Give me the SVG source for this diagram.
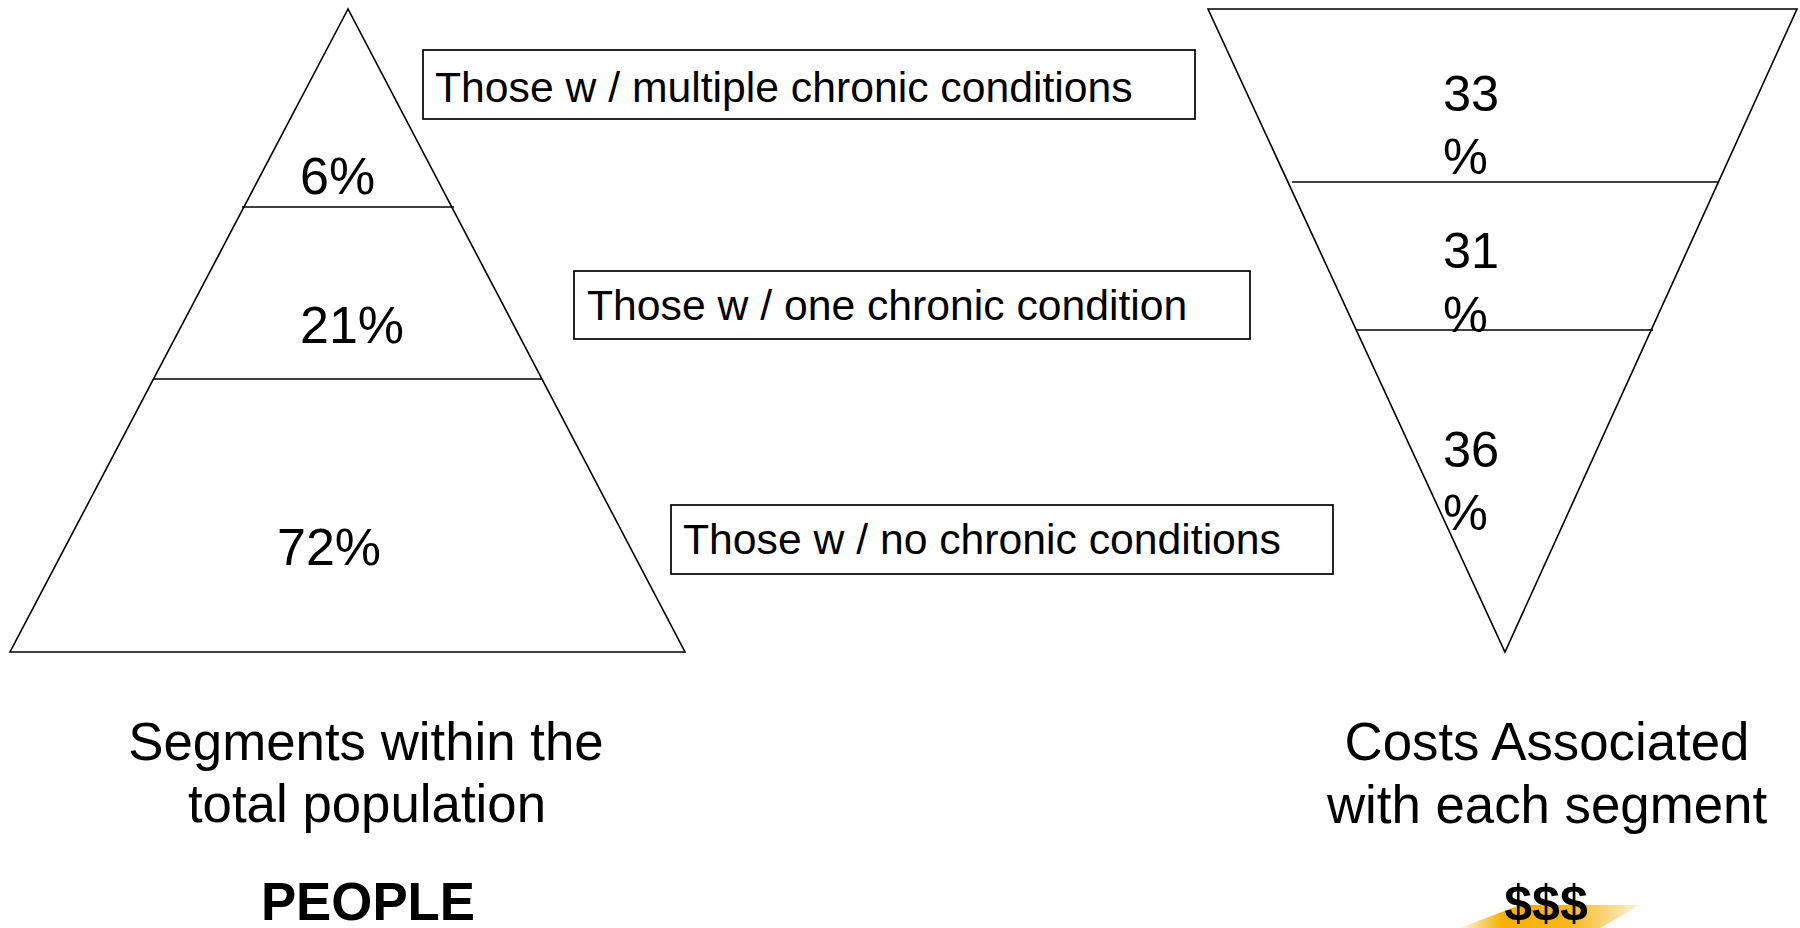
<svg xmlns="http://www.w3.org/2000/svg" width="1800" height="928" viewBox="0 0 1800 928">
<style>
.shape{fill:none;stroke:#000;stroke-width:1.6}
.box{fill:#fff;stroke:#000;stroke-width:1.7}
.t{font-family:"Liberation Sans",Arial,sans-serif;fill:#000}
.lbl{font-size:42.7px}
.pct{font-size:52px}
.pctr{font-size:50.5px}
.cap{font-size:52.8px;text-anchor:middle}
.bold{font-weight:bold}
</style>
<defs>
<linearGradient id="swoosh" gradientUnits="userSpaceOnUse" x1="1455" y1="0" x2="1645" y2="0">
<stop offset="0" stop-color="#F5B000" stop-opacity="0"/>
<stop offset="0.25" stop-color="#F5B000" stop-opacity="1"/>
<stop offset="0.6" stop-color="#F5B000" stop-opacity="0.9"/>
<stop offset="1" stop-color="#F5B000" stop-opacity="0.1"/>
</linearGradient>
</defs>
<rect width="1800" height="928" fill="#fff"/>

<g id="population-pyramid">
<polygon class="shape" points="348,9 10,652 685,652"/>
<line class="shape" x1="242" y1="207" x2="454" y2="207"/>
<line class="shape" x1="153" y1="379" x2="542" y2="379"/>
<text class="t pct" x="300" y="194">6%</text>
<text class="t pct" x="300" y="343">21%</text>
<text class="t pct" x="277" y="565">72%</text>
</g>

<g id="cost-pyramid">
<polygon class="shape" points="1208,9 1797,9 1505,652"/>
<line class="shape" x1="1292" y1="182" x2="1718" y2="182"/>
<line class="shape" x1="1356" y1="330" x2="1653" y2="330"/>
<text class="t pctr" x="1443" y="111">33</text>
<text class="t pctr" x="1443" y="174">%</text>
<text class="t pctr" x="1443" y="268">31</text>
<text class="t pctr" x="1443" y="332">%</text>
<text class="t pctr" x="1443" y="467">36</text>
<text class="t pctr" x="1443" y="530">%</text>
</g>

<g id="label-multiple">
<rect class="box" x="423" y="50" width="772" height="69"/>
<text class="t lbl" x="435" y="102">Those w / multiple chronic conditions</text>
</g>

<g id="label-one">
<rect class="box" x="574" y="271" width="676" height="68"/>
<text class="t lbl" x="587" y="320">Those w / one chronic condition</text>
</g>

<g id="label-none">
<rect class="box" x="671" y="505" width="662" height="69"/>
<text class="t lbl" x="683" y="554">Those w / no chronic conditions</text>
</g>

<g id="connectors"></g>

<g id="caption-people">
<text class="t cap" x="366" y="760">Segments within the</text>
<text class="t cap" x="367" y="822">total population</text>
<text class="t cap bold" x="368" y="920">PEOPLE</text>
</g>

<g id="caption-costs">
<polygon points="1460,928 1520,905 1640,905 1600,928" fill="url(#swoosh)"/>
<text class="t cap" x="1547" y="760">Costs Associated</text>
<text class="t cap" x="1547" y="823">with each segment</text>
<text class="t cap bold" x="1546" y="920" style="font-size:50px">$$$</text>
</g>
</svg>
